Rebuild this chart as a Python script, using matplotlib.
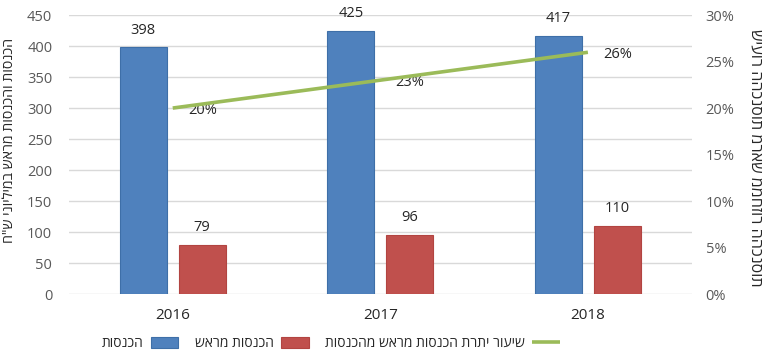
import matplotlib
matplotlib.use("Agg")
import numpy as np
import matplotlib.pyplot as plt
from matplotlib.ticker import FuncFormatter

plt.rcParams['font.family'] = ['Open Sans', 'DejaVu Sans']

# data
years = ["2016", "2017", "2018"]
income = [398, 425, 417]
advance_income = [79, 96, 110]
advance_rate = [0.20, 0.23, 0.26]

# hebrew labels (logical order); matplotlib has no bidi, so they get reversed for display
lbl_income = "הכנסות"
lbl_advance = "הכנסות מראש"
lbl_rate = "שיעור יתרת הכנסות מראש מהכנסות"
ylabel_left = 'הכנסות והכנסות מראש במיליוני ש"ח'
ylabel_right = "שיעור ההכנסות מראש ממחזור ההכנסות"

def vis(s):
  return s[::-1]

blue = "#4F81BD"
red = "#C0504D"
green = "#9BBB59"
text_col = "#262626"

fig = plt.figure(figsize=(7.66, 3.59), dpi=100)
ax = fig.add_axes([0.090, 0.181, 0.813, 0.777])
ax2 = ax.twinx()

x = np.arange(len(years))
w = 0.226
off = 0.142

b1 = ax.bar(x - off, income, width=w, color=blue, edgecolor="#3E6FA8", linewidth=0.8,
            label=vis(lbl_income), zorder=3)
b2 = ax.bar(x + off, advance_income, width=w, color=red, edgecolor="#B24441", linewidth=0.8,
            label=vis(lbl_advance), zorder=3)

for rects, vals in ((b1, income), (b2, advance_income)):
  for r, v in zip(rects, vals):
    ax.annotate(str(v), (r.get_x() + r.get_width() / 2, v), xytext=(0, 7),
                textcoords="offset points", ha="center", va="bottom",
                fontsize=10.5, color=text_col)

ax.set_ylim(0, 450)
ax.set_yticks(np.arange(0, 451, 50))
ax.set_xlim(-0.5, 2.5)
ax.set_xticks(x)
ax.set_xticklabels(years)
ax.grid(axis='y', color="#D9D9D9", linewidth=1.0, zorder=0)
ax.set_axisbelow(True)

ln, = ax2.plot(x, advance_rate, color=green, linewidth=2.6, solid_capstyle="butt",
               label=vis(lbl_rate), zorder=4)
for xi, v in zip(x, advance_rate):
  ax2.annotate("{:.0f}%".format(v * 100), (xi, v), xytext=(11, -1.5),
               textcoords="offset points", ha="left", va="center",
               fontsize=10.5, color=text_col)

ax2.set_ylim(0, 0.30)
ax2.set_yticks(np.arange(0, 0.301, 0.05))
ax2.yaxis.set_major_formatter(FuncFormatter(lambda v, p: "{:.0f}%".format(v * 100)))

for a in (ax, ax2):
  for s in a.spines.values():
    s.set_visible(False)
  a.tick_params(length=0, labelsize=10.5, colors="#595959")
ax.tick_params(axis='x', labelsize=11, colors=text_col, pad=10)
ax.tick_params(axis='y', pad=12)
ax2.tick_params(axis='y', pad=10)

fig.text(0.012, 0.61, vis(ylabel_left), rotation=90, ha="center", va="center",
         fontsize=10.2, color=text_col)
fig.text(0.986, 0.56, ylabel_right, rotation=270, ha="center", va="center",
         fontsize=11.6, color=text_col)

fig.legend([b1, b2, ln], [vis(lbl_income), vis(lbl_advance), vis(lbl_rate)],
           loc="center", bbox_to_anchor=(0.432, 0.043), ncol=3, frameon=False,
           markerfirst=False, fontsize=10, handlelength=2.0, handleheight=0.8,
           columnspacing=1.2, handletextpad=0.5, labelcolor=text_col)

fig.savefig("out.png", dpi=100)
